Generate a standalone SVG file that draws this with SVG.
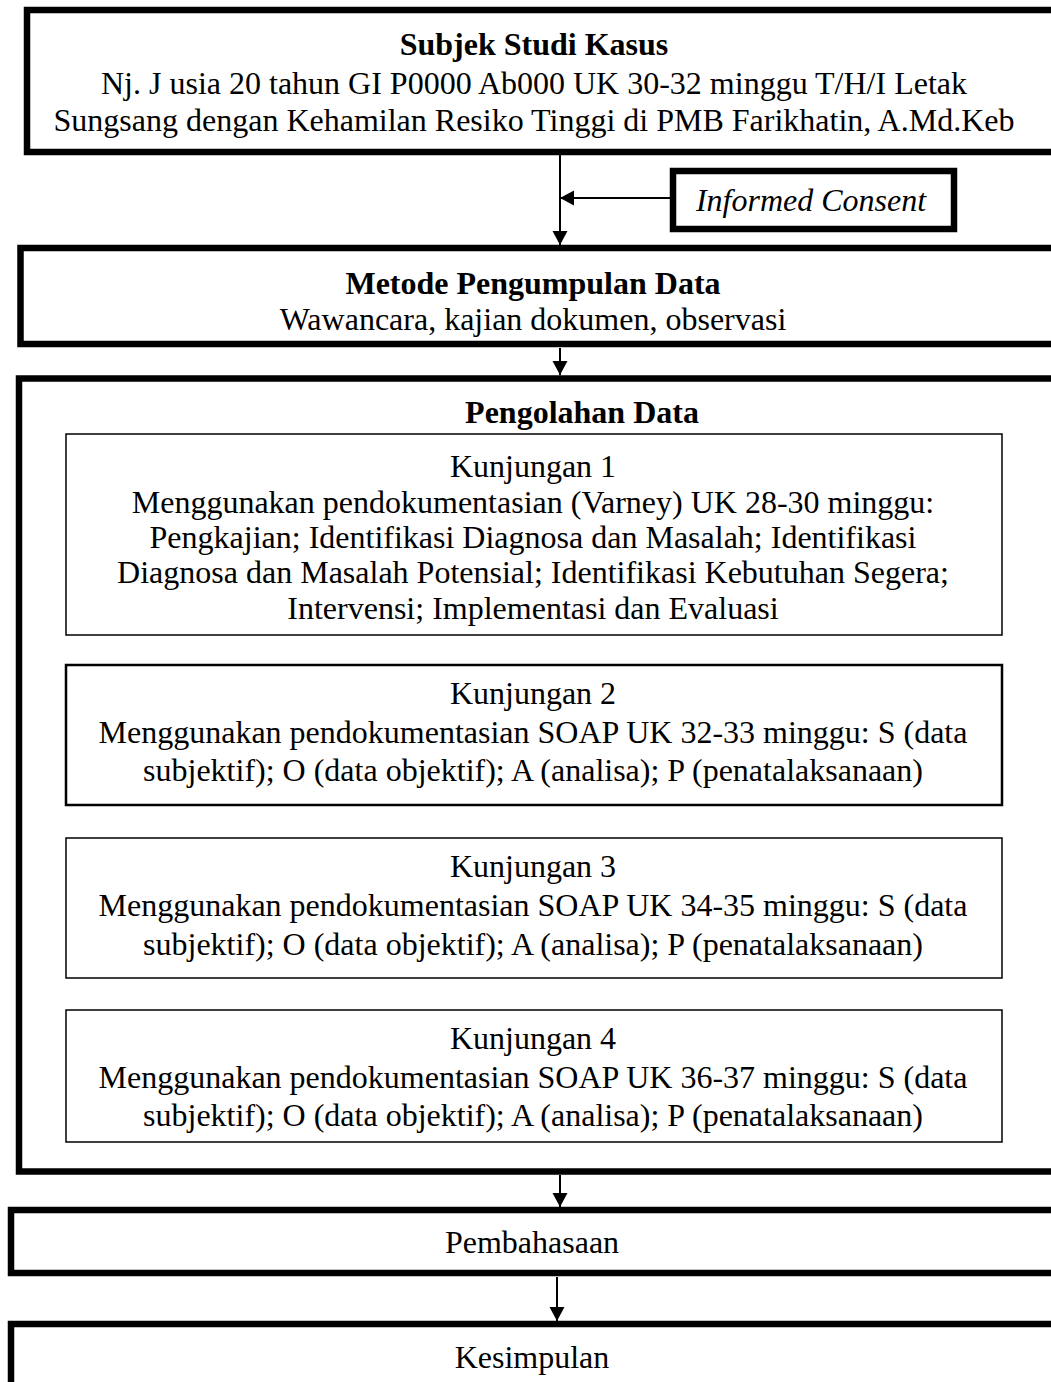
<svg xmlns="http://www.w3.org/2000/svg" width="1051" height="1382" viewBox="0 0 1051 1382">
<defs>
<marker id="ah" markerUnits="userSpaceOnUse" markerWidth="16" markerHeight="16" viewBox="0 0 16 16" refX="14" refY="8" orient="auto">
<path d="M0,0.5 L14,8 L0,15.5 Z" fill="#000"/>
</marker>
<style>
.thick{fill:#fff;stroke:#000;stroke-width:6.5}
.thin{fill:#fff;stroke:#000;stroke-width:1.5}
.mid{fill:#fff;stroke:#000;stroke-width:2.5}
text{font-family:"Liberation Serif","Times New Roman",serif;font-size:32px;fill:#000;text-anchor:middle}
.b{font-weight:bold}
.i{font-style:italic}
.c{fill:none;stroke:#000;stroke-width:2;marker-end:url(#ah)}
</style>
</defs>
<rect width="1051" height="1382" fill="#fff"/>
<g id="connectors">
<line class="c" x1="560" y1="155" x2="560" y2="245"/>
<line class="c" x1="670" y1="198" x2="560" y2="198"/>
<line class="c" x1="560" y1="348" x2="560" y2="375"/>
<line class="c" x1="563" y1="635" x2="563" y2="664"/>
<line class="c" x1="563" y1="805" x2="563" y2="837"/>
<line class="c" x1="563" y1="978" x2="563" y2="1009"/>
<line class="c" x1="560" y1="1175" x2="560" y2="1207"/>
<line class="c" x1="557" y1="1277" x2="557" y2="1321"/>
</g>
<g id="subjek">
<rect class="thick" x="27" y="10" width="1030" height="142"/>
<text class="b" x="534" y="55">Subjek Studi Kasus</text>
<text x="534" y="94">Nj. J usia 20 tahun GI P0000 Ab000 UK 30-32 minggu T/H/I Letak</text>
<text x="534" y="131">Sungsang dengan Kehamilan Resiko Tinggi di PMB Farikhatin, A.Md.Keb</text>
</g>
<g id="informed">
<rect class="thick" x="673" y="171" width="281" height="58"/>
<text class="i" x="811" y="211">Informed Consent</text>
</g>
<g id="metode">
<rect class="thick" x="20.5" y="248" width="1040" height="96"/>
<text class="b" x="533" y="294">Metode Pengumpulan Data</text>
<text x="533" y="330">Wawancara, kajian dokumen, observasi</text>
</g>
<g id="pengolahan">
<rect class="thick" x="19" y="378.5" width="1040" height="793"/>
<text class="b" x="582" y="423">Pengolahan Data</text>
</g>
<g id="kunjungan1">
<rect class="thin" x="66" y="434" width="936" height="201"/>
<text x="533" y="477">Kunjungan 1</text>
<text x="533" y="513">Menggunakan pendokumentasian (Varney) UK 28-30 minggu:</text>
<text x="533" y="548">Pengkajian; Identifikasi Diagnosa dan Masalah; Identifikasi</text>
<text x="533" y="583">Diagnosa dan Masalah Potensial; Identifikasi Kebutuhan Segera;</text>
<text x="533" y="619">Intervensi; Implementasi dan Evaluasi</text>
</g>
<g id="kunjungan2">
<rect class="mid" x="66" y="665" width="936" height="140"/>
<text x="533" y="704">Kunjungan 2</text>
<text x="533" y="743">Menggunakan pendokumentasian SOAP UK 32-33 minggu: S (data</text>
<text x="533" y="781">subjektif); O (data objektif); A (analisa); P (penatalaksanaan)</text>
</g>
<g id="kunjungan3">
<rect class="thin" x="66" y="838" width="936" height="140"/>
<text x="533" y="877">Kunjungan 3</text>
<text x="533" y="916">Menggunakan pendokumentasian SOAP UK 34-35 minggu: S (data</text>
<text x="533" y="955">subjektif); O (data objektif); A (analisa); P (penatalaksanaan)</text>
</g>
<g id="kunjungan4">
<rect class="thin" x="66" y="1010" width="936" height="132"/>
<text x="533" y="1049">Kunjungan 4</text>
<text x="533" y="1088">Menggunakan pendokumentasian SOAP UK 36-37 minggu: S (data</text>
<text x="533" y="1126">subjektif); O (data objektif); A (analisa); P (penatalaksanaan)</text>
</g>
<g id="pembahasaan">
<rect class="thick" x="11" y="1210" width="1050" height="63"/>
<text x="532" y="1253">Pembahasaan</text>
</g>
<g id="kesimpulan">
<rect class="thick" x="11" y="1324" width="1050" height="100"/>
<text x="532" y="1368">Kesimpulan</text>
</g>
</svg>
